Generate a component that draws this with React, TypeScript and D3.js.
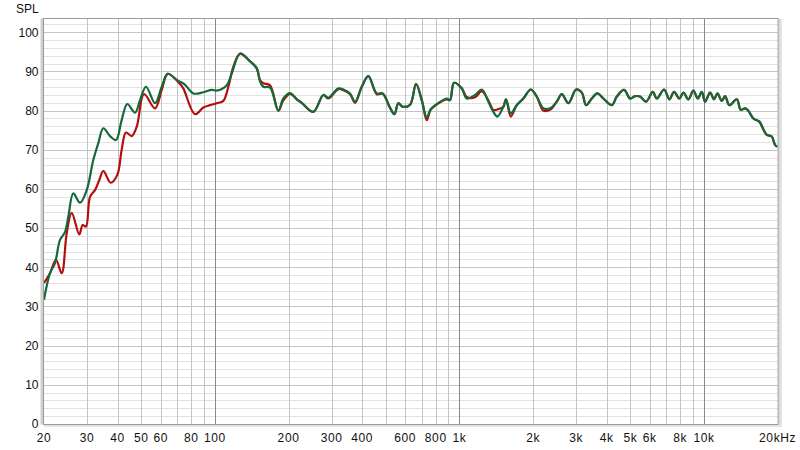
import React from "react";
import * as d3 from "d3";

const greenFreq = [20, 21.16, 22.18, 23.26, 24.37, 25.14, 26.35, 28.07, 29.89, 31.81, 33.35, 34.96, 37.24, 39.39, 41.56, 43.82, 47.13, 49.41, 52.27, 56.89, 60.6, 64.12, 70, 75, 81.59, 89.67, 97.05, 101.7, 111.8, 117.2, 126.7, 139.2, 148.3, 152.9, 157.8, 168, 181.7, 190.4, 202.8, 216.1, 226.5, 252.7, 277.6, 291, 319.7, 335.1, 356.9, 374.1, 398.5, 424, 458.9, 485.6, 516.7, 541.7, 562.4, 586.2, 628.1, 664.5, 701.2, 735, 763.2, 819.9, 887.1, 915.1, 950.3, 1022, 1071, 1158, 1234, 1313, 1376, 1429, 1512, 1551, 1621, 1715, 1825, 1957, 2071, 2204, 2347, 2500, 2621, 2789, 2999, 3164, 3295, 3477, 3665, 3878, 4197, 4400, 4713, 4986, 5226, 5478, 5796, 6174, 6411, 6869, 7220, 7546, 7933, 8238, 8634, 9050, 9432, 9795, 10104, 10591, 10998, 11345, 11826, 12199, 12704, 13617, 14141, 14727, 15192, 15924, 16850, 17498, 18068, 18938, 19536, 20000];
const greenSpl = [31.7, 38.5, 41.1, 47, 49, 52.9, 58.9, 56.5, 59.7, 67.4, 71.7, 75.5, 73.5, 72.5, 77.6, 81.7, 79.5, 82.7, 86.1, 81.9, 86.1, 89.4, 87.8, 86.8, 84.4, 84.7, 85.3, 85.1, 86.5, 89.5, 94.6, 92.6, 90.8, 87.5, 86.1, 85.9, 80, 83.1, 84.5, 82.9, 82, 79.7, 84, 83.3, 85.7, 85.4, 84.4, 82.3, 86.1, 88.8, 84.4, 84.4, 81.1, 79.1, 81.9, 81, 81.5, 86.8, 82.7, 78.3, 80.3, 81.9, 83.1, 82.7, 87.1, 85.7, 83.1, 84, 85.4, 82.3, 79.7, 78.5, 81, 82.9, 79.3, 81.4, 83.1, 85.4, 83.6, 80.6, 80.6, 82.3, 84.2, 81.9, 85.4, 84.6, 81.4, 83.1, 84.4, 83.1, 81.4, 83.6, 85.3, 83.1, 83.7, 83.6, 82.3, 84.8, 83.1, 85.4, 82.9, 84.8, 83.1, 84.6, 82.9, 85.1, 83.1, 84.8, 82.3, 84.6, 82.9, 84.4, 82.5, 83.7, 81.4, 82.9, 80.2, 80.6, 80, 78, 77.2, 75.2, 73.8, 73.4, 71.2, 70.8];

const redFreq = [20, 21.16, 22.39, 23.63, 24.77, 25.96, 27.88, 28.79, 29.7, 30.84, 32.33, 33.67, 34.96, 37.48, 39.88, 41.56, 43.28, 45.69, 47.89, 51.29, 56.89, 60.6, 64.12, 72, 74.27, 82.91, 89.67, 95.51, 101.7, 108.2, 113.5, 118.9, 126.7, 139.2, 148.3, 152.9, 157.8, 168, 181.7, 190.4, 202.8, 216.1, 226.5, 252.7, 277.6, 291, 319.7, 335.1, 356.9, 374.1, 398.5, 424, 458.9, 485.6, 516.7, 541.7, 562.4, 586.2, 628.1, 664.5, 701.2, 735, 763.2, 819.9, 887.1, 915.1, 950.3, 1022, 1071, 1158, 1234, 1313, 1376, 1429, 1512, 1551, 1621, 1715, 1825, 1957, 2071, 2204, 2347, 2500, 2621, 2789, 2999, 3164, 3295, 3477, 3665, 3878, 4197, 4400, 4713, 4986, 5226, 5478, 5796, 6174, 6411, 6869, 7220, 7546, 7933, 8238, 8634, 9050, 9432, 9795, 10104, 10591, 10998, 11345, 11826, 12199, 12704, 13617, 14141, 14727, 15192, 15924, 16850, 17498, 18068, 18938, 19536, 20000];
const redSpl = [36, 38.5, 41.9, 38.5, 48.7, 53.9, 48.4, 50.8, 50.4, 58, 59.7, 62.3, 64.6, 61.6, 63.6, 70, 74.4, 73.5, 75.9, 84.2, 80.6, 85.3, 89.4, 86.8, 85.7, 79.1, 80.8, 81.4, 81.9, 82.5, 86.1, 91.2, 94.5, 92.6, 90.8, 87.8, 87, 86.5, 80, 82.6, 84.3, 82.9, 82, 79.7, 84, 83.1, 85.5, 85.2, 84.2, 82, 86.1, 88.8, 84.2, 84.3, 81.1, 79.1, 81.9, 81, 81.5, 86.8, 82.7, 77.6, 80.3, 81.9, 82.9, 82.7, 87.1, 85.7, 83.5, 83.4, 85, 82.6, 80.2, 80.3, 81, 82.9, 78.5, 81.4, 83.1, 85.4, 83.6, 80, 80.2, 82.3, 84.2, 81.9, 85.4, 84.6, 81.4, 83.1, 84.4, 83.1, 81.4, 83.6, 85.3, 83.1, 83.7, 83.6, 82.3, 84.8, 83.1, 85.4, 82.9, 84.8, 83.1, 84.6, 82.9, 85.1, 83.1, 84.8, 82.3, 84.6, 82.9, 84.4, 82.5, 83.7, 81.4, 82.9, 80.2, 80.6, 80, 78, 77.2, 75.2, 73.8, 73.4, 71.2, 70.8];

const freqTicks = [20, 30, 40, 50, 60, 80, 100, 200, 300, 400, 600, 800, 1000, 2000, 3000, 4000, 5000, 6000, 8000, 10000, 20000];
const freqTickLabels = ["20", "30", "40", "50", "60", "80", "100", "200", "300", "400", "600", "800", "1k", "2k", "3k", "4k", "5k", "6k", "8k", "10k", "20kHz"];
const splTicks = [0, 10, 20, 30, 40, 50, 60, 70, 80, 90, 100];

const L = 44, R = 777.6, T = 19, B = 424;

export default function App() {
  const x = d3.scaleLog().domain([20, 20000]).range([L, R]);
  const y = d3.scaleLinear().domain([0, 103.4]).range([B, T]);

  const vLines: { f: number; major: boolean }[] = [];
  [10, 100, 1000, 10000].forEach((dec) => {
    for (let m = 1; m <= 9; m++) {
      const f = dec * m;
      if (f > 20 && f < 20000) vLines.push({ f, major: m === 1 });
    }
  });
  const hLines: number[] = [];
  for (let v = 2; v <= 102; v += 2) hLines.push(v);

  const line = d3
    .line<[number, number]>()
    .x((d) => x(d[0]))
    .y((d) => y(d[1]))
    .curve(d3.curveCatmullRom.alpha(0.5));

  const green = greenFreq.map((f, i) => [f, greenSpl[i]] as [number, number]);
  const red = redFreq.map((f, i) => [f, redSpl[i]] as [number, number]);

  const font = "'Liberation Sans', Arial, sans-serif";

  return (
    <svg width={800} height={450} style={{ position: "absolute", left: 0, top: 0, background: "#fff" }}>
      <defs>
        <clipPath id="plot">
          <rect x={L} y={T} width={R - L} height={B - T} />
        </clipPath>
      </defs>
      <rect x={0} y={0} width={800} height={450} fill="#fff" />
      {/* horizontal grid */}
      {hLines.map((v) => (
        <line key={"h" + v} x1={L} x2={R} y1={Math.round(y(v)) + 0.5} y2={Math.round(y(v)) + 0.5}
          stroke={v % 10 === 0 ? "#c4c4c4" : "#e2e2e2"} strokeWidth={1} />
      ))}
      {/* vertical grid */}
      {vLines.map((d) => (
        <line key={"v" + d.f} x1={Math.round(x(d.f)) + 0.5} x2={Math.round(x(d.f)) + 0.5} y1={T} y2={B}
          stroke={d.major ? "#8a8a8a" : "#c4c4c4"} strokeWidth={1} />
      ))}
      <g clipPath="url(#plot)">
        <path d={line(red) || ""} fill="none" stroke="#b40f0f" strokeWidth={2.2} strokeLinejoin="round" />
        <path d={line(green) || ""} fill="none" stroke="#136b3a" strokeWidth={2.2} strokeLinejoin="round" />
      </g>
      {/* frame */}
      <rect x={L - 3.5} y={T - 0.5} width={3} height={B - T + 1} fill="#d0d0d0" />
      <rect x={R + 1} y={T} width={3} height={B - T + 3} fill="#dcdcdc" />
      <rect x={L} y={B + 1} width={R - L + 4} height={2} fill="#e4e4e4" />
      <rect x={L - 0.5} y={T - 0.5} width={R - L + 1} height={B - T + 1} fill="none" stroke="#9a9a9a" strokeWidth={1} />
      {/* y labels */}
      {splTicks.map((v) => (
        <text key={"y" + v} x={38.5} y={y(v)} dy="0.36em" textAnchor="end" fontFamily={font} fontSize={12} fill="#111">
          {v}
        </text>
      ))}
      <text x={16} y={13} fontFamily={font} fontSize={12} fill="#111">SPL</text>
      {/* x labels */}
      {freqTicks.map((f, i) => (
        <text key={"x" + f} x={x(f)} y={442} textAnchor="middle" fontFamily={font} fontSize={12} fill="#111" letterSpacing={0.6}>
          {freqTickLabels[i]}
        </text>
      ))}
    </svg>
  );
}
